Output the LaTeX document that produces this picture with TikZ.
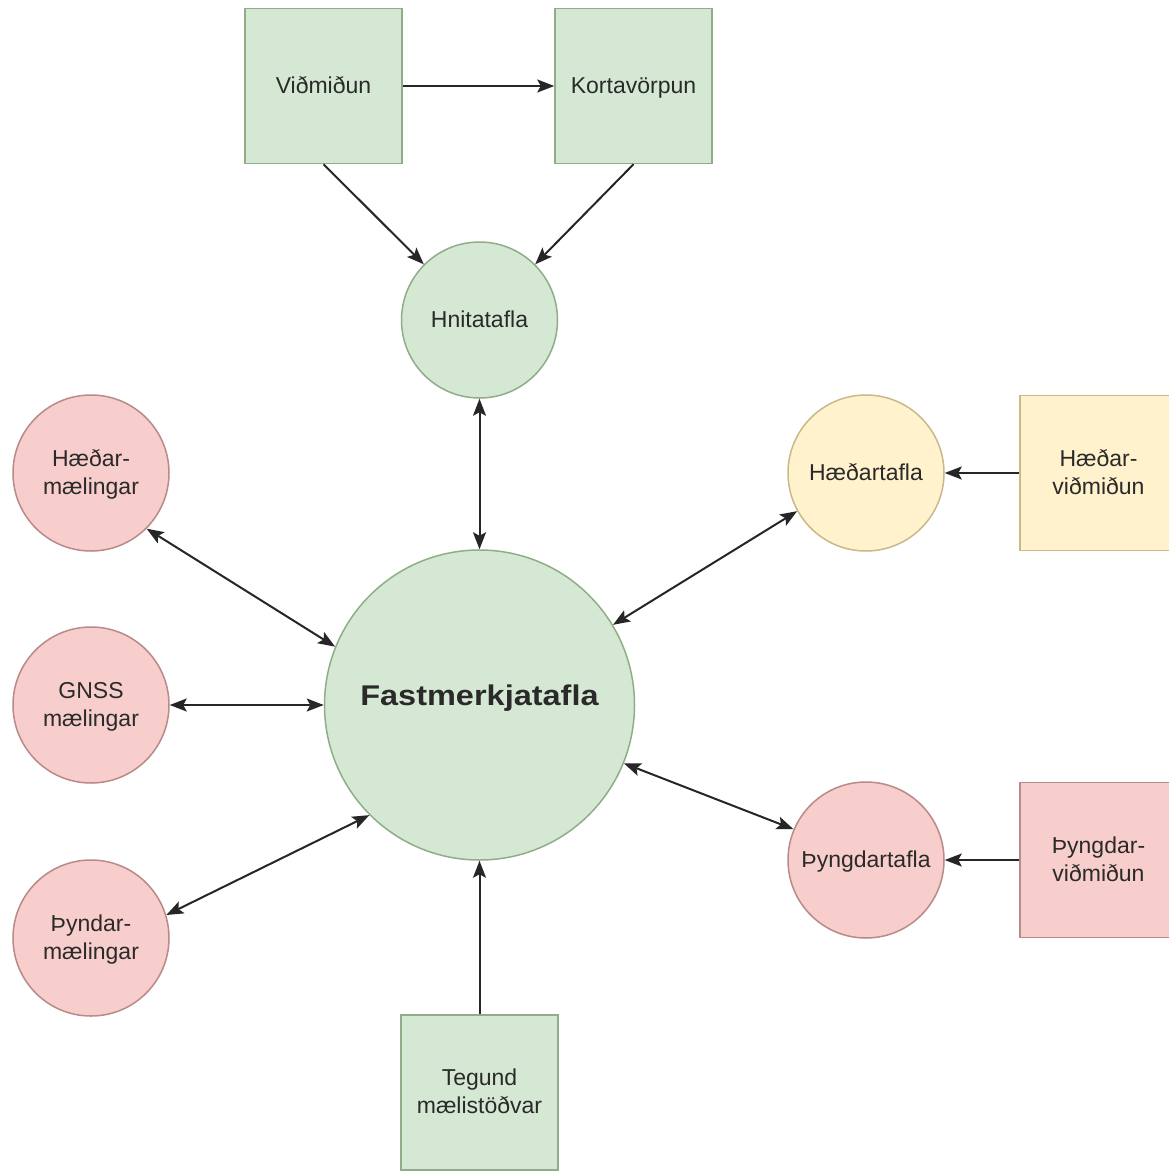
\documentclass[tikz,border=0pt]{standalone}
\usepackage{fontspec}
\setmainfont{Liberation Sans}
\newfontfamily\fastfont[FakeStretch=1.14]{Liberation Sans Bold}
\usetikzlibrary{arrows.meta}
\definecolor{gfill}{HTML}{D5E8D4}
\definecolor{gline}{HTML}{8FAE88}
\definecolor{pfill}{HTML}{F8CECC}
\definecolor{pline}{HTML}{B88A88}
\definecolor{yfill}{HTML}{FFF2CC}
\definecolor{yline}{HTML}{C9B98A}
\definecolor{txt}{HTML}{2A2A2A}
\tikzset{
  base/.style={line width=1.5pt, text=txt, align=center, inner sep=0pt,
    text height=17pt, text depth=3pt,
    font=\fontsize{23}{28}\selectfont},
  two/.style={text height=45pt, text depth=3pt},
  gbox/.style={base, draw=gline, fill=gfill, minimum width=157pt, minimum height=155pt},
  pbox/.style={base, draw=pline, fill=pfill, minimum width=157pt, minimum height=155pt},
  ybox/.style={base, draw=yline, fill=yfill, minimum width=157pt, minimum height=155pt},
  gcirc/.style={base, circle, draw=gline, fill=gfill, minimum size=156pt},
  pcirc/.style={base, circle, draw=pline, fill=pfill, minimum size=156pt},
  ycirc/.style={base, circle, draw=yline, fill=yfill, minimum size=156pt},
  tip/.tip={Stealth[length=17pt,width=13pt,inset=3.5pt]},
  conn/.style={line width=2pt, draw=black!85, -tip},
  bconn/.style={line width=2pt, draw=black!85, tip-tip}
}
\begin{document}
\begin{tikzpicture}[x=1pt,y=-1pt]
\useasboundingbox[fill=white] (0,0) rectangle (1169,1173);
\node[gbox] (vid) at (323.5,86) {Viðmiðun};
\node[gbox] (kort) at (633.5,86) {Kortavörpun};
\node[gcirc] (hnit) at (479.5,320) {Hnitatafla};
\node[gcirc, minimum size=310pt, text height=20pt, text depth=20pt, font=\fontsize{28.5}{34}\fastfont] (fast) at (479.5,705) {Fastmerkjatafla};
\node[pcirc, two] (haedm) at (91,473) {Hæðar-\\mælingar};
\node[pcirc, two] (gnss) at (91,705) {GNSS\\mælingar};
\node[pcirc, two] (thynm) at (91,938) {Þyndar-\\mælingar};
\node[ycirc] (haedt) at (866,473) {Hæðartafla};
\node[ybox, two] (haedv) at (1098.5,473) {Hæðar-\\viðmiðun};
\node[pcirc] (thyngt) at (866,860) {Þyngdartafla};
\node[pbox, two] (thyngv) at (1098.5,860) {Þyngdar-\\viðmiðun};
\node[gbox, two] (teg) at (479.5,1092.5) {Tegund\\mælistöðvar};

\draw[conn] (vid) -- (kort);
\draw[conn] (vid.south) -- (hnit.135);
\draw[conn] (kort.south) -- (hnit.45);
\draw[bconn] (hnit) -- (fast);
\draw[bconn] (haedm.-45) -- (fast.158.6);
\draw[bconn] (gnss.east) -- (fast.west);
\draw[bconn] (thynm.17.6) -- (fast.225);
\draw[bconn] (haedt.209) -- (fast.31.8);
\draw[bconn] (thyngt.157.7) -- (fast.-22.6);
\draw[conn] (haedv.west) -- (haedt.east);
\draw[conn] (thyngv.west) -- (thyngt.east);
\draw[conn] (teg.north) -- (fast.south);
\end{tikzpicture}
\end{document}
